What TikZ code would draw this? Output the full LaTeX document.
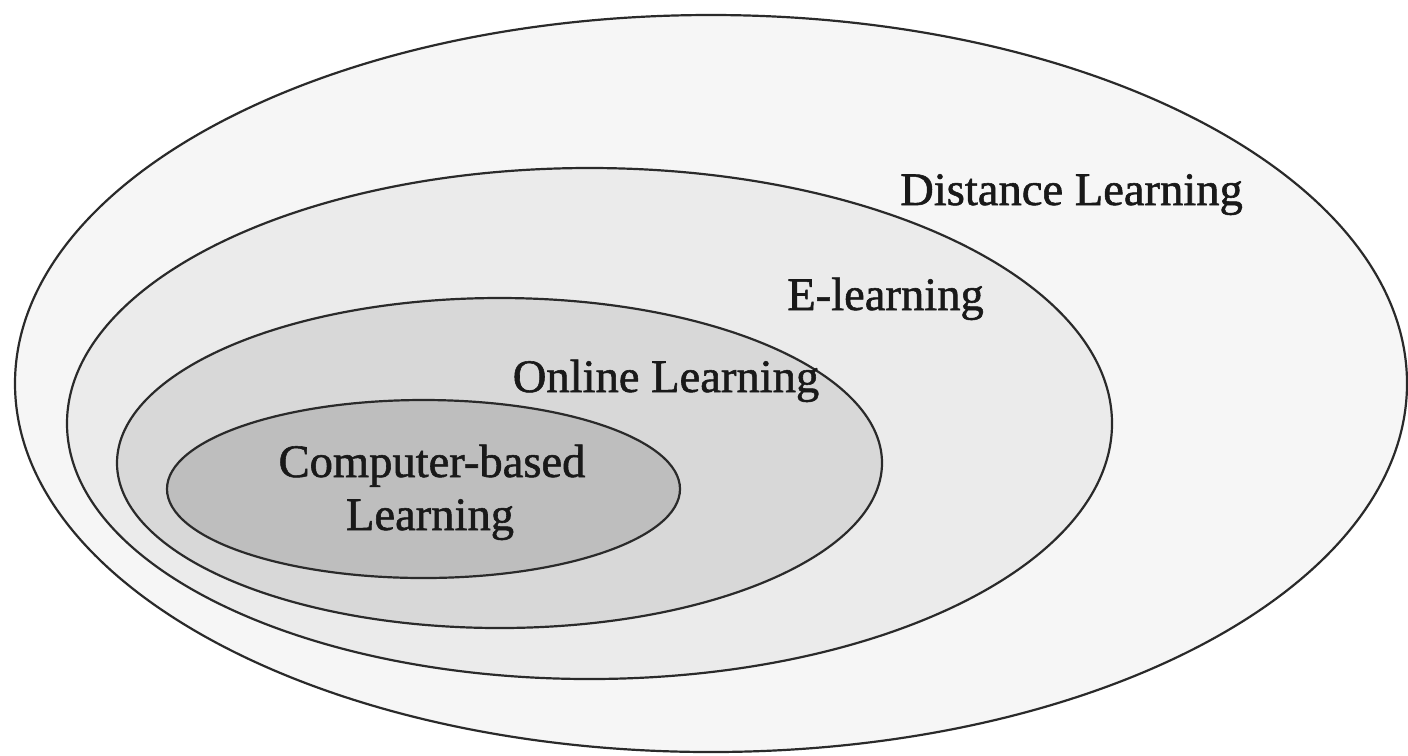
\documentclass[tikz,border=0pt]{standalone}
\usepackage{fontspec}
\setmainfont{Liberation Serif}
\newfontfamily\lblfont{Liberation Serif}[FakeBold=1.2]
\usetikzlibrary{shapes.geometric}
\definecolor{fillA}{HTML}{F6F6F6}
\definecolor{fillB}{HTML}{EBEBEB}
\definecolor{fillC}{HTML}{D8D8D8}
\definecolor{fillD}{HTML}{BEBEBE}
\definecolor{edge}{HTML}{2A2A2A}
\begin{document}
\begin{tikzpicture}[x=0.02cm,y=-0.02cm,
  ring/.style={ellipse,draw=edge,line width=1.25pt,inner sep=0pt,outer sep=0pt},
  lbl/.style={anchor=base,inner sep=0pt,font=\lblfont\fontsize{26.5}{30}\selectfont,text=black!90}]
\useasboundingbox[fill=white] (0,0) rectangle (1408,755);
\node[ring,fill=fillA,minimum width=1392*0.02cm,minimum height=737*0.02cm] (dl) at (711,383.5) {};
\node[ring,fill=fillB,minimum width=1045*0.02cm,minimum height=511*0.02cm] (el) at (589.5,423.5) {};
\node[ring,fill=fillC,minimum width=765*0.02cm,minimum height=330*0.02cm] (ol) at (499.5,463) {};
\node[ring,fill=fillD,minimum width=513*0.02cm,minimum height=178*0.02cm] (cb) at (423.5,489) {};
\node[lbl] (tdl) at (1071.5,205) {Distance Learning};
\node[lbl] (tel) at (885.5,310) {E-learning};
\node[lbl] (tol) at (666,392) {Online Learning};
\node[lbl] (tcb1) at (432,477) {Computer-based};
\node[lbl] (tcb2) at (430,530) {Learning};
\end{tikzpicture}
\end{document}
